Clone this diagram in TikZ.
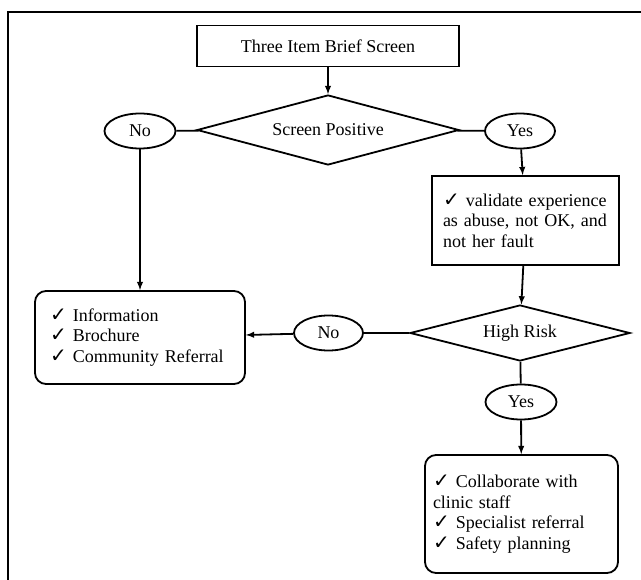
\documentclass[tikz,border=0pt]{standalone}
\usepackage{fontspec}
\setmainfont{Liberation Serif}
\newfontfamily\chkfont{DejaVu Sans}
\usepackage{tikz}
\usetikzlibrary{arrows,shapes.geometric}
\newcommand{\chk}{{\chkfont\fontsize{20}{20}\selectfont ✓}}
\tikzset{
    every node/.style={
           font=\fontsize{18}{20.5}\selectfont,
           },
}
\tikzset{
    box/.style={
           rectangle,
           draw, line width=1.8pt,
           inner sep=0pt,
           },
}
\tikzset{
    todo/.style={
           rectangle, rounded corners=11pt,
           draw, line width=1.8pt,
           inner ysep=0pt,
           align=left,
           },
}
\tikzset{
    decide/.style={
           diamond,
           draw, line width=1.8pt,
           inner sep=0pt,
           },
}
\tikzset{
    answer/.style={
           ellipse,
           draw, line width=1.8pt,
           inner sep=0pt,
           minimum width=70pt, minimum height=35pt,
           },
}

\begin{document}
\begin{tikzpicture}[x=1pt,y=-1pt,line width=1.8pt,>=latex]
\useasboundingbox (0,0) rectangle (641,580);
\draw[line width=2.6pt] (8,600) -- (8,12) -- (660,12);
\node[box,minimum width=262pt,minimum height=41pt] (0) at (328,46) {Three Item Brief Screen};
\node[decide,aspect=3.74,minimum width=262pt,minimum height=70pt] (1) at (328,130) {Screen Positive};
\node[answer,minimum width=71pt] (2) at (140,131) {No};
\node[answer] (3) at (520,131) {Yes};
\node[box,align=left,text width=165pt,inner xsep=11pt,minimum height=89pt] (4) at (525.5,220.5) {\chk\ validate experience\\as abuse, not OK, and\\not her fault};
\node[decide,aspect=3.93,minimum width=220pt,minimum height=56pt] (5) at (520,333) {High Risk};
\node[answer,minimum width=69pt] (6) at (328.5,333) {No};
\node[answer,minimum width=71pt] (7) at (521,402) {Yes};
\node[todo,text width=180pt,inner xsep=15pt,minimum height=93pt] (8) at (140,337.5) {\chk\ Information\\\chk\ Brochure\\\chk\ Community Referral};
\node[todo,text width=177pt,inner xsep=8pt,minimum height=118pt] (9) at (521.5,514) {\chk\ Collaborate with\\clinic staff\\\chk\ Specialist referral\\\chk\ Safety planning};
\path (0) edge[->] (1);
\path (1) edge (2);
\path (1) edge (3);
\path (2) edge[->] (8);
\path (3) edge[->] (4);
\path (4) edge[->] (5);
\path (5) edge (6);
\path (6) edge[->] (8);
\path (5) edge (7);
\path (7) edge[->] (9);
\end{tikzpicture}
\end{document}
